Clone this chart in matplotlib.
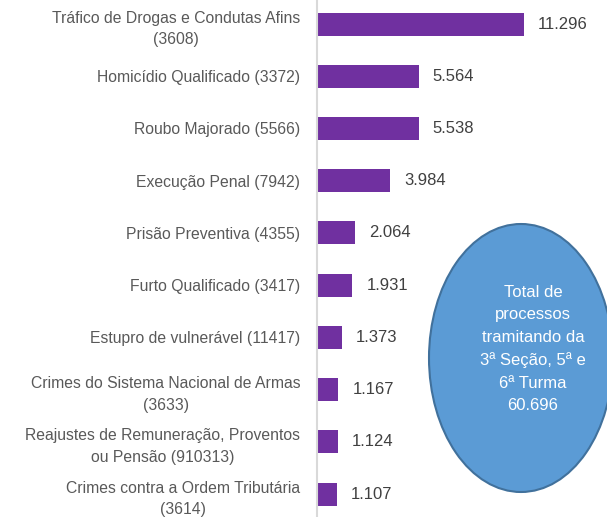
import matplotlib
matplotlib.use("Agg")
import matplotlib.pyplot as plt
from matplotlib.patches import Ellipse

categorias = [
    "Tráfico de Drogas e Condutas Afins\n(3608)",
    "Homicídio Qualificado (3372)",
    "Roubo Majorado (5566)",
    "Execução Penal (7942)",
    "Prisão Preventiva (4355)",
    "Furto Qualificado (3417)",
    "Estupro de vulnerável (11417)",
    "Crimes do Sistema Nacional de Armas\n(3633)",
    "Reajustes de Remuneração, Proventos\nou Pensão (910313)",
    "Crimes contra a Ordem Tributária\n(3614)",
]
valores = [11.296, 5.564, 5.538, 3.984, 2.064, 1.931, 1.373, 1.167, 1.124, 1.107]
rotulos = ["11.296", "5.564", "5.538", "3.984", "2.064", "1.931", "1.373", "1.167", "1.124", "1.107"]
texto_total = "Total de\nprocessos\ntramitando da\n3ª Seção, 5ª e\n6ª Turma\n60.696"

plt.rcParams['font.family'] = ['Liberation Sans', 'DejaVu Sans']

fig = plt.figure(figsize=(6.07, 5.17), dpi=100)
ax = fig.add_axes([317 / 607, 0.0, 1 - 317 / 607, 1.0])

pos = list(range(len(categorias)))
ax.barh(pos, valores, height=0.44, color="#7030A0")
ax.set_ylim(9.44, -0.46)
ax.set_xlim(0, 290 / 18.33)

for y, v, r in zip(pos, valores, rotulos):
    ax.annotate(r, (v, y), xytext=(10, 0), textcoords="offset points",
                va="center", ha="left", fontsize=12, color="#404040")

ax.set_yticks(pos)
ax.set_yticklabels(categorias, fontsize=11.3, color="#595959",
                   multialignment="center", linespacing=1.55)
ax.tick_params(axis="y", length=0, pad=12)
ax.set_xticks([])
for s in ["top", "right", "bottom"]:
    ax.spines[s].set_visible(False)
ax.spines["left"].set_color("#D9D9D9")
ax.spines["left"].set_linewidth(1.5)

elipse = Ellipse((521 / 607, 1 - 358 / 517), 184 / 607, 268 / 517,
                 transform=fig.transFigure, facecolor="#5B9BD5",
                 edgecolor="#41719C", linewidth=1.5, clip_on=False)
fig.patches.append(elipse)
fig.text(533 / 607, 1 - 349 / 517, texto_total, ha="center", va="center",
         fontsize=12, color="white", linespacing=1.62)

fig.savefig("out.png", dpi=100)
